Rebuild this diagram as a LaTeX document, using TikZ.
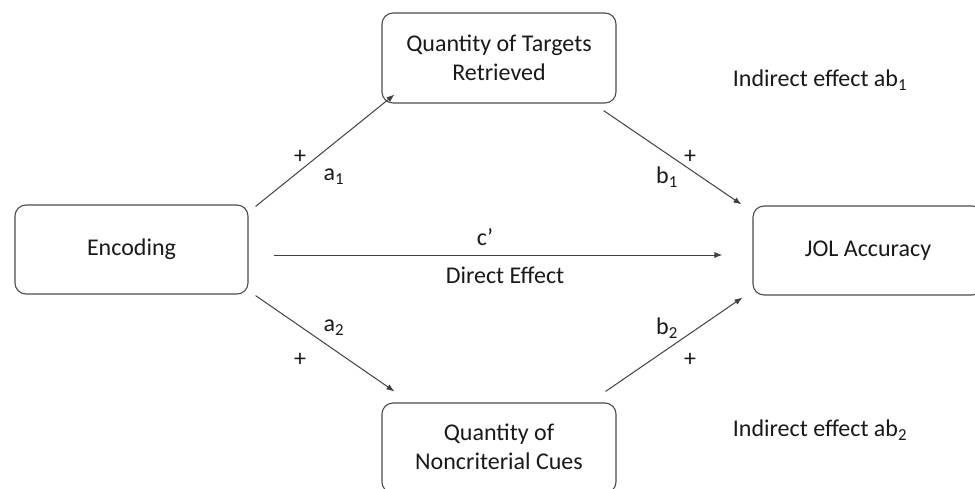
\documentclass[tikz,border=0pt]{standalone}
\usepackage{fontspec}
\setmainfont{Carlito}
\usetikzlibrary{arrows.meta,calc}
\begin{document}
\begin{tikzpicture}[x=1pt,y=-1pt,
  box/.style={draw=black!70, line width=1.1pt, rounded corners=11pt, align=center, inner sep=0pt, font=\fontsize{24}{29}\selectfont, text=black!90},
  conn/.style={draw=black!75, line width=1pt, -{Latex[length=8pt,width=6pt]}},
  lbl/.style={font=\fontsize{24}{28}\selectfont, text=black!90, inner sep=0pt}]
\useasboundingbox (0,0) rectangle (975,488);
\clip (0,0) rectangle (975,488);
\node[box, minimum width=233pt, minimum height=89pt] (enc) at (131.5,249.5) {Encoding};
\node[box, minimum width=234pt, minimum height=90pt] (top) at (499,58) {Quantity of Targets\\Retrieved};
\node[box, minimum width=234pt, minimum height=90pt] (bot) at (499,448) {};
\node[lbl, align=center, font=\fontsize{24}{29}\selectfont] (bottxt) at (499,447) {Quantity of\\Noncriterial Cues};
\node[box, minimum width=230pt, minimum height=89pt] (jol) at (868,250.5) {JOL Accuracy};

\draw[conn] ($(enc.north east)+(7,2)$) -- ($(top.south west)+(13,-9)$);
\draw[conn] ($(top.south east)+(-13,7)$) -- ($(jol.north west)+(-11,-1)$);
\draw[conn] ($(enc.south east)+(7,1)$) -- ($(bot.north west)+(13,-11)$);
\draw[conn] ($(bot.north east)+(-11,-11)$) -- ($(jol.south west)+(-10,2)$);
\draw[conn] ($(enc.east)+(25,5.5)$) -- ($(jol.west)+(-30,4.5)$);

\node[lbl] (p1) at (300,157) {+};
\node[lbl] (la1) at (334,177) {a\textsubscript{1}};
\node[lbl] (lb1) at (667,177) {b\textsubscript{1}};
\node[lbl] (p2) at (690,157) {+};
\node[lbl] (la2) at (334,328) {a\textsubscript{2}};
\node[lbl] (p3) at (300,360) {+};
\node[lbl] (lb2) at (667,328) {b\textsubscript{2}};
\node[lbl] (p4) at (690,360) {+};
\node[lbl] (lc) at (485,237) {c’};
\node[lbl] (ld) at (505,275) {Direct Effect};
\node[lbl] (ab1) at (820,80) {Indirect effect ab\textsubscript{1}};
\node[lbl] (ab2) at (820,430) {Indirect effect ab\textsubscript{2}};
\end{tikzpicture}
\end{document}
